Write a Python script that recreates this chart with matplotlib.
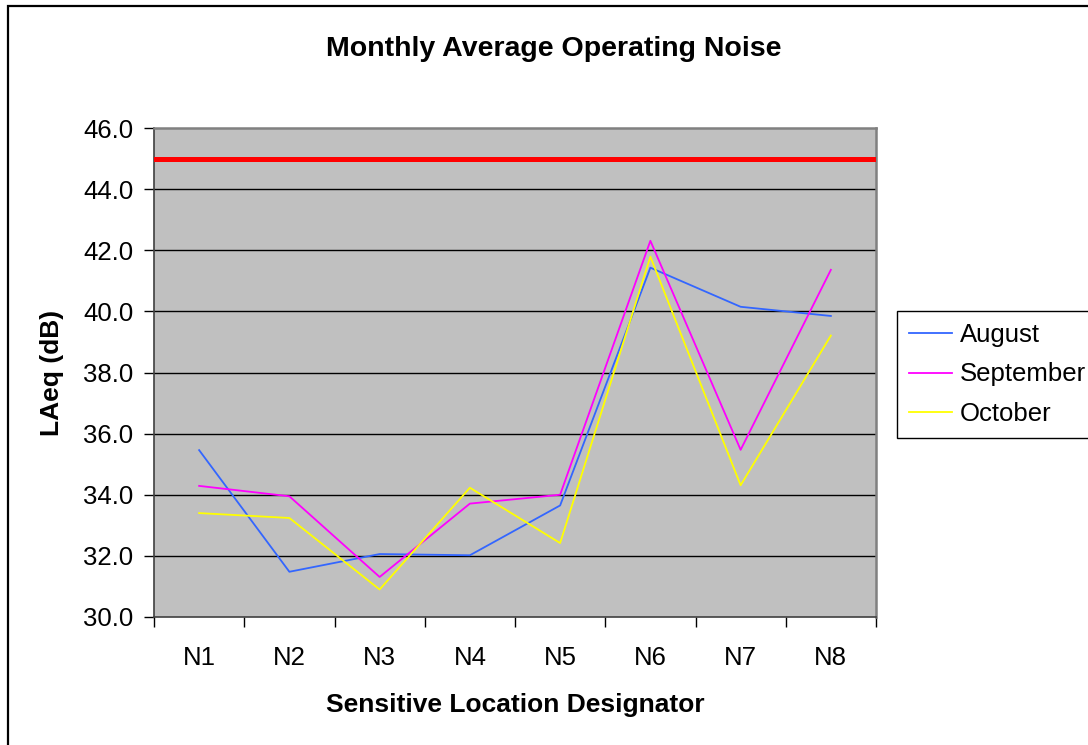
import matplotlib
matplotlib.use("Agg")
import matplotlib.pyplot as plt
from matplotlib.patches import Rectangle
import numpy as np

categories = ['N1', 'N2', 'N3', 'N4', 'N5', 'N6', 'N7', 'N8']
august = [35.46, 31.48, 32.06, 32.02, 33.65, 41.43, 40.15, 39.85]
september = [34.29, 33.95, 31.31, 33.71, 34.00, 42.31, 35.47, 41.36]
october = [33.40, 33.24, 30.90, 34.23, 32.42, 41.79, 34.31, 39.21]
limit = 45.0
yticks = [30, 32, 34, 36, 38, 40, 42, 44, 46]

plt.rcParams['font.family'] = ['Liberation Sans', 'DejaVu Sans']

W, H = 1088, 745
fig = plt.figure(figsize=(W / 100, H / 100), dpi=100)
fig.patch.set_facecolor('white')

# outer chart border
fig.patches.append(Rectangle((8 / W, -0.01), 1.05, 1 - 6 / H + 0.01,
                             transform=fig.transFigure, fill=False,
                             edgecolor='black', linewidth=1.6))

left, right, top, bottom = 154, 876, 128, 617
ax = fig.add_axes([left / W, 1 - bottom / H, (right - left) / W, (bottom - top) / H])
ax.set_facecolor('#C0C0C0')

x = np.arange(len(categories))
ax.set_xlim(-0.5, len(categories) - 0.5)
ax.set_ylim(30, 46)

for yv in yticks[1:-1]:
    ax.axhline(yv, color='black', linewidth=1.0, zorder=1)

ax.axhline(limit, color='#FF0000', linewidth=3.6, zorder=3, xmin=-0.004, xmax=0.997)

ax.plot(x, august, color='#3366FF', linewidth=1.3, label='August', zorder=4)
ax.plot(x, september, color='#FF00FF', linewidth=1.3, label='September', zorder=4)
ax.plot(x, october, color='#FFFF00', linewidth=1.3, label='October', zorder=4)

ax.set_yticks(yticks)
ax.set_yticklabels([f'{v:.1f}' for v in yticks])
ax.tick_params(axis='y', direction='out', length=7, width=1, color='black',
               labelsize=18.5, pad=8)

ax.set_xticks(np.arange(len(categories) + 1) - 0.5)
ax.set_xticklabels([])
ax.set_xticks(x, minor=True)
ax.set_xticklabels(categories, minor=True)
ax.tick_params(axis='x', which='major', direction='out', length=7, width=1, color='black')
ax.tick_params(axis='x', which='minor', length=0, labelsize=18.5, pad=21)

for s in ['left', 'bottom']:
    ax.spines[s].set_color('#404040')
    ax.spines[s].set_linewidth(1.2)
for s in ['top', 'right']:
    ax.spines[s].set_color('#808080')
    ax.spines[s].set_linewidth(1.8)

fig.text(554 / W, 1 - 48.5 / H, 'Monthly Average Operating Noise', ha='center', va='center',
         fontsize=20.5, fontweight='bold')
fig.text(515 / W, 1 - 705 / H, 'Sensitive Location Designator', ha='center', va='center',
         fontsize=19, fontweight='bold')
fig.text(52 / W, 1 - 373 / H, 'LAeq (dB)', ha='center', va='center', rotation=90,
         fontsize=19, fontweight='bold')

leg = fig.legend(loc='upper left', bbox_to_anchor=(897 / W, 1 - 311 / H),
                 frameon=True, fancybox=False, edgecolor='black', framealpha=1,
                 fontsize=18.5, handlelength=1.7, handletextpad=0.3,
                 borderpad=0.45, labelspacing=0.62, borderaxespad=0)
leg.get_frame().set_linewidth(1.0)

fig.savefig('out.png', dpi=100, facecolor='white')
